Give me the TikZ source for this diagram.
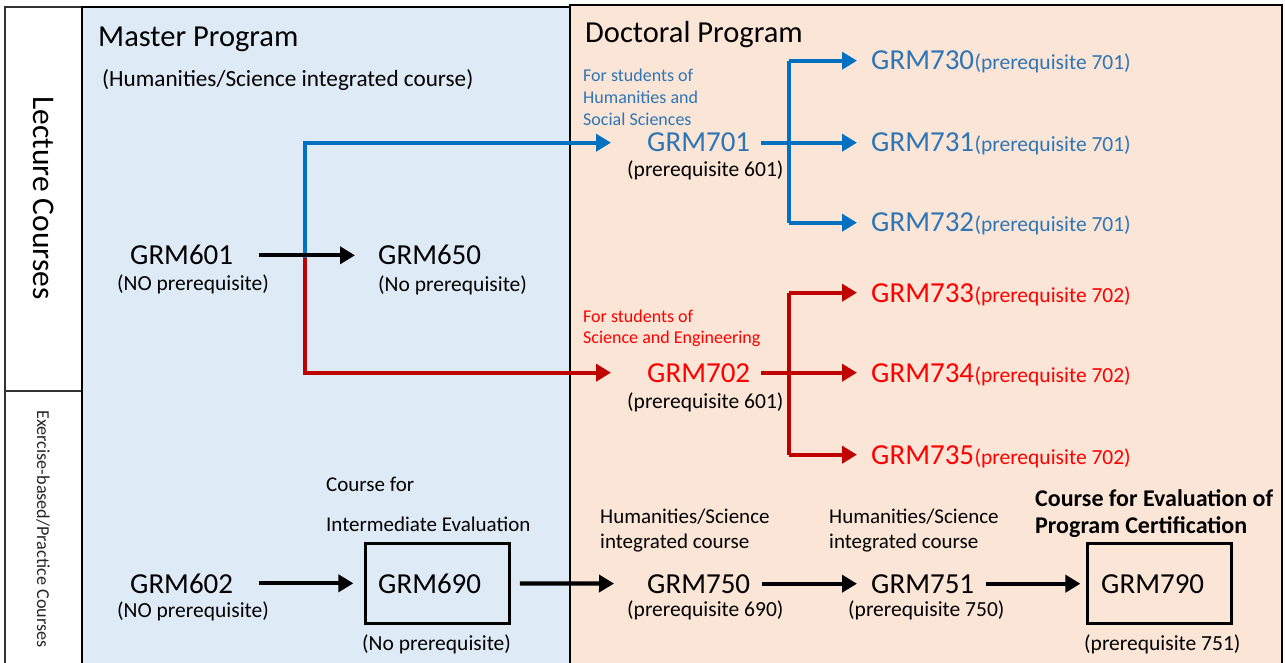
\documentclass[tikz,border=0pt]{standalone}
\usepackage{fontspec}
\setmainfont{Carlito}
\usetikzlibrary{arrows.meta, positioning}

\definecolor{masterbg}{HTML}{DEEBF7}
\definecolor{doctorbg}{HTML}{FBE5D6}
\definecolor{hblue}{HTML}{0070C0}
\definecolor{hbluetxt}{HTML}{2E75B6}
\definecolor{sred}{HTML}{C00000}
\definecolor{sredtxt}{HTML}{FF0000}

\newcommand{\titlefs}{\fontsize{30.5}{34}\selectfont}
\newcommand{\codefs}{\fontsize{29}{32}\selectfont}
\newcommand{\prefs}{\fontsize{21.5}{24}\selectfont}
\newcommand{\kindfs}{\fontsize{21}{24}\selectfont}
\newcommand{\notefs}{\fontsize{18}{20}\selectfont}

\tikzset{
  title/.style={inner sep=0pt, anchor=base west, font=\titlefs},
  code/.style={inner sep=0pt, anchor=base west, font=\codefs},
  pre/.style={inner sep=0pt, anchor=base west, font=\prefs},
  kind/.style={inner sep=0pt, anchor=base west, font=\kindfs},
  note/.style={inner sep=0pt, anchor=base west, font=\notefs},
  frame/.style={line width=1.6pt, black!80},
  boxed/.style={draw, line width=2.5pt, minimum width=144pt, minimum height=80pt, inner sep=0pt},
  arr/.style={line width=4.2pt, -{Triangle[length=15pt,width=17pt]}},
  karr/.style={arr, black},
  barr/.style={arr, hblue},
  rarr/.style={arr, sred},
}

\begin{document}
\begin{tikzpicture}[x=1pt,y=-1pt]
\useasboundingbox (0,0) rectangle (1285,663);

% panels
\fill[masterbg] (82,7) rectangle (570,663);
\fill[doctorbg] (570,5) rectangle (1282,663);
\draw[frame] (5,663) -- (5,7) -- (82,7);
\draw[frame] (5,391) -- (82,391);
\draw[frame, line width=2.5pt, black] (82,663) -- (82,7) -- (570,7);
\draw[frame, line width=2.5pt, black] (570,663) -- (570,5) -- (1282,5) -- (1282,663);

% row labels
\node[rotate=-90, font=\fontsize{31.5}{34}\selectfont] (lecture) at (44,198) {Lecture Courses};
\node[rotate=-90, font=\fontsize{18.2}{20}\selectfont, black!85] (exercise) at (43,529) {Exercise-based/Practice Courses};

% titles
\node[title] (master) at (98,47) {Master Program};
\node[pre, font=\fontsize{23.2}{26}\selectfont] (mastersub) at (102,87) {(Humanities/Science integrated course)};
\node[title] (doctor) at (585,43) {Doctoral Program};

% master courses
\node[code] (grm601) at (130,265) {GRM601};
\node[pre] (pre601) at (117,290) {(NO prerequisite)};
\node[code] (grm650) at (378,265) {GRM650};
\node[pre] (pre650) at (378,291) {(No prerequisite)};
\node[code] (grm602) at (130,593) {GRM602};
\node[pre] (pre602) at (117,617) {(NO prerequisite)};
\node[code] (grm690) at (378,593) {GRM690};
\node[boxed] (box690) at ([xshift=8pt]grm690.center) {};
\node[pre] (pre690) at (362,650) {(No prerequisite)};
\node[kind] (mid1) at (326,491) {Course for};
\node[kind] (mid2) at (326,531) {Intermediate Evaluation};

% doctoral, humanities branch
\foreach \t [count=\i] in {For students of, Humanities and, Social Sciences}
  \node[note, hbluetxt] (hnote\i) at (583,60+22*\i) {\t};
\node[code, hbluetxt] (grm701) at (647,152) {GRM701};
\node[pre] (pre701) at (627,177) {(prerequisite 601)};
\node[code, hbluetxt] (grm730) at (871,70) {GRM730};
\node[code, hbluetxt] (grm731) at (871,152) {GRM731};
\node[code, hbluetxt] (grm732) at (871,232) {GRM732};
\foreach \n in {730,731,732}
  \node[pre, hbluetxt] (pre\n) at (grm\n.base east) {(prerequisite 701)};

% doctoral, science branch
\node[note, sredtxt] (snote1) at (583,322) {For students of};
\node[note, sredtxt] (snote2) at (583,343) {Science and Engineering};
\node[code, sredtxt] (grm702) at (647,382) {GRM702};
\node[pre] (pre702) at (627,408) {(prerequisite 601)};
\node[code, sredtxt] (grm733) at (871,302) {GRM733};
\node[code, sredtxt] (grm734) at (871,382) {GRM734};
\node[code, sredtxt] (grm735) at (871,464) {GRM735};
\foreach \n in {733,734,735}
  \node[pre, sredtxt] (pre\n) at (grm\n.base east) {(prerequisite 702)};

% doctoral, practice row
\node[kind] (int1a) at (600,523) {Humanities/Science};
\node[kind] (int1b) at (600,548) {integrated course};
\node[code] (grm750) at (647,593) {GRM750};
\node[pre] (pre750) at (627,616) {(prerequisite 690)};
\node[kind] (int2a) at (829,523) {Humanities/Science};
\node[kind] (int2b) at (829,548) {integrated course};
\node[code] (grm751) at (871,593) {GRM751};
\node[pre] (pre751) at (848,616) {(prerequisite 750)};
\node[kind, font=\bfseries\fontsize{24}{27}\selectfont] (cert1) at (1035,506) {Course for Evaluation of};
\node[kind, font=\bfseries\fontsize{24}{27}\selectfont] (cert2) at (1035,533) {Program Certification};
\node[code] (grm790) at (1101,593) {GRM790};
\node[boxed] (box790) at ([xshift=7pt]grm790.center) {};
\node[pre] (pre790) at (1084,650) {(prerequisite 751)};

% branches out of GRM601
\coordinate (split) at (305,258);
\draw[barr, shorten >=36pt] (split) |- (grm701);
\draw[rarr, shorten >=36pt] (split) |- (grm702);
\draw[karr, shorten <=26pt, shorten >=23pt] (grm601) -- (grm650);

% humanities tree
\coordinate (hub1) at (789,143);
\draw[hblue, line width=4.2pt] (hub1 |- grm730) -- (hub1 |- grm732);
\draw[barr, shorten >=14pt] (hub1 |- grm730) -- (grm730);
\draw[barr, shorten <=11pt, shorten >=14pt] (grm701) -- (grm731);
\draw[barr, shorten >=14pt] (hub1 |- grm732) -- (grm732);

% science tree
\coordinate (hub2) at (789,375);
\draw[sred, line width=4.2pt] (hub2 |- grm733) -- (hub2 |- grm735);
\draw[rarr, shorten >=14pt] (hub2 |- grm733) -- (grm733);
\draw[rarr, shorten <=11pt, shorten >=14pt] (grm702) -- (grm734);
\draw[rarr, shorten >=14pt] (hub2 |- grm735) -- (grm735);

% practice chain
\draw[karr, shorten <=26pt, shorten >=11pt] (grm602) -- (box690);
\draw[karr, shorten <=9pt, shorten >=33pt] (box690) -- (grm750);
\draw[karr, shorten <=12pt, shorten >=14pt] (grm750) -- (grm751);
\draw[karr, shorten <=12pt, shorten >=6pt] (grm751) -- (box790);
\end{tikzpicture}
\end{document}
